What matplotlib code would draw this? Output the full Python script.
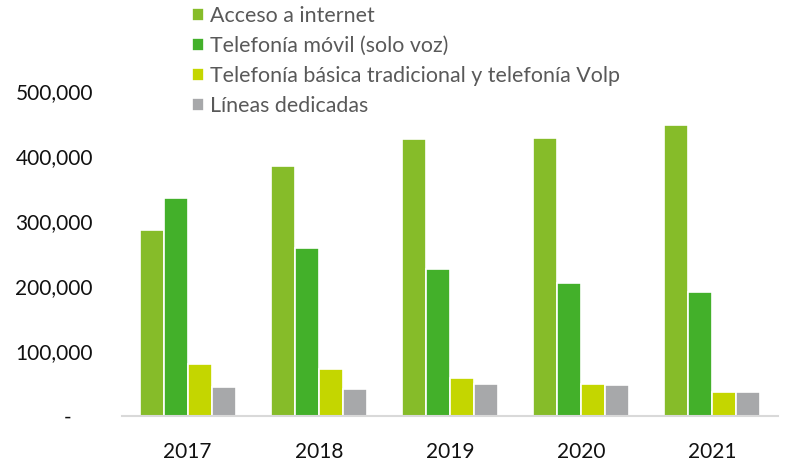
import numpy as np
import matplotlib.pyplot as plt
from matplotlib.ticker import FuncFormatter

# Datos
years = ['2017', '2018', '2019', '2020', '2021']
internet = [286000, 385000, 426000, 428000, 447000]
movil = [336000, 258000, 226000, 205000, 190000]
basica = [80000, 73000, 59000, 49000, 37000]
lineas = [44000, 41000, 49000, 47000, 37000]

labels = ['Acceso a internet', 'Telefonía móvil (solo voz)',
          'Telefonía básica tradicional y telefonía Volp', 'Líneas dedicadas']
cols = ['#86bc29', '#43b02a', '#c4d600', '#a7a8aa']

plt.rcParams['font.family'] = ['Lato', 'DejaVu Sans']

fig = plt.figure(figsize=(7.87, 4.63), dpi=100)
ax = fig.add_axes([0.155, 0.1015, 0.8336, 0.702])

x = np.arange(len(years))
w = 0.183
series = [internet, movil, basica, lineas]
bars = []
for i, s in enumerate(series):
    b = ax.bar(x + (i - 1.5) * w, s, width=w, color=cols[i],
               edgecolor='white', linewidth=1.2, label=labels[i])
    bars.append(b)

ax.set_xlim(-0.5, len(years) - 0.5)
ax.set_ylim(0, 500000)
ax.set_yticks([0, 100000, 200000, 300000, 400000, 500000])

def fmt(v, pos):
    if v == 0:
        return '-    '
    return '{:,.0f}'.format(v)

ax.yaxis.set_major_formatter(FuncFormatter(fmt))
ax.set_xticks(x)
ax.set_xticklabels(years)
ax.tick_params(axis='both', length=0, labelsize=15, colors='#111111')
ax.tick_params(axis='y', pad=21)
ax.tick_params(axis='x', pad=18.5)

for sp in ['top', 'right', 'left']:
    ax.spines[sp].set_visible(False)
ax.spines['bottom'].set_color('#d9d9d9')
ax.spines['bottom'].set_linewidth(1.5)

leg = fig.legend(handles=bars, labels=labels, loc='upper left',
                 bbox_to_anchor=(0.233, 1.005), frameon=False, fontsize=15.4,
                 handlelength=0.56, handleheight=0.56, handletextpad=0.3,
                 labelspacing=0.46, borderaxespad=0)
for t in leg.get_texts():
    t.set_color('#595959')

fig.savefig('out.png', dpi=100)
